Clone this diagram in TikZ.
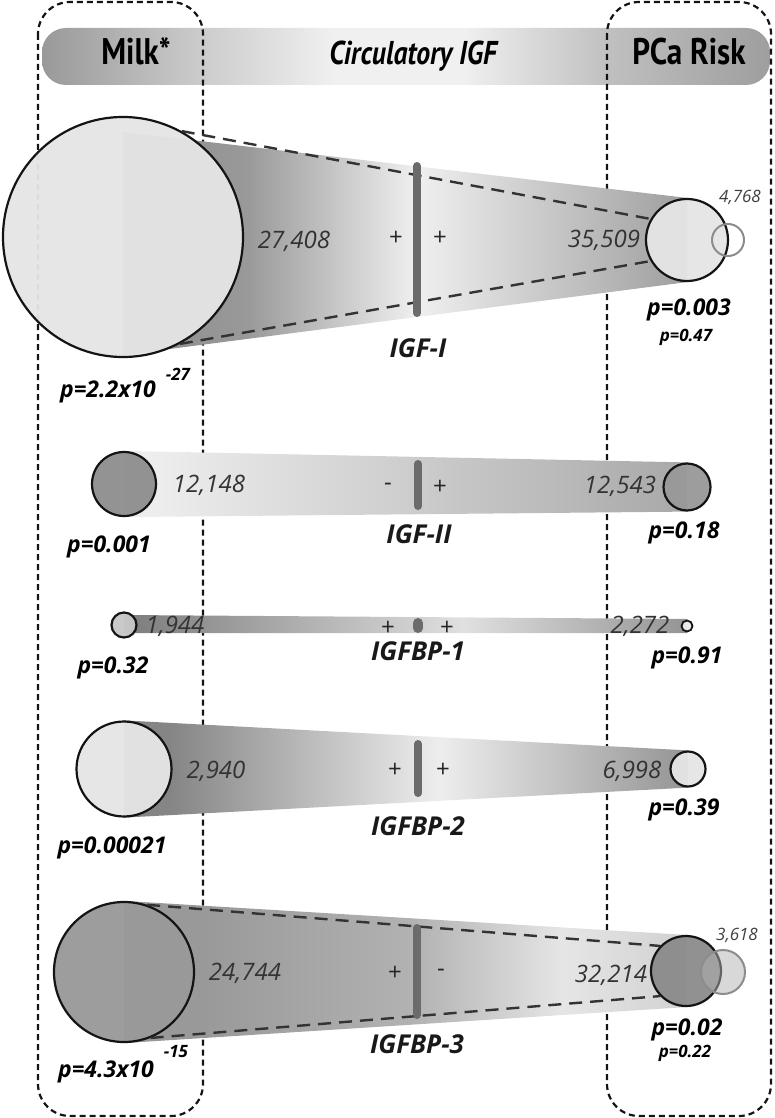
\documentclass[tikz,border=0pt]{standalone}
\usepackage{fontspec}
\setmainfont{Open Sans}
\newfontfamily\hdrfont{PT Sans}[FakeStretch=0.84]
\usetikzlibrary{calc}

% grey levels
\definecolor{rim}{gray}{0.08}
\definecolor{stemgray}{gray}{0.42}
\definecolor{lightdisc}{gray}{0.9}
\definecolor{darkdisc}{gray}{0.56}
\definecolor{hdA}{gray}{0.6}
\definecolor{hdB}{gray}{0.8}
\definecolor{hdC}{gray}{0.94}
\definecolor{hdD}{gray}{0.75}
\definecolor{hdE}{gray}{0.62}

% header bar
\pgfdeclarehorizontalshading{hdrshade}{100bp}{color(0bp)=(hdA); color(25bp)=(hdA); color(36bp)=(hdB); color(45bp)=(hdC); color(54bp)=(hdC); color(64bp)=(hdD); color(75bp)=(hdE); color(100bp)=(hdE)}
% cones, 25bp = left disc centre, 75bp = right disc centre
\pgfdeclarehorizontalshading{coneI}{100bp}{color(0bp)=(black!45); color(25bp)=(black!45); color(36bp)=(black!40); color(51bp)=(black!6); color(75bp)=(black!38); color(100bp)=(black!38)}
\pgfdeclarehorizontalshading{coneII}{100bp}{color(0bp)=(black!7); color(28bp)=(black!7); color(51bp)=(black!20); color(75bp)=(black!34); color(100bp)=(black!34)}
\pgfdeclarehorizontalshading{coneBPi}{100bp}{color(0bp)=(black!50); color(26bp)=(black!50); color(51bp)=(black!18); color(55bp)=(black!12); color(75bp)=(black!42); color(100bp)=(black!42)}
\pgfdeclarehorizontalshading{coneBPii}{100bp}{color(0bp)=(black!48); color(29bp)=(black!48); color(51bp)=(black!10); color(53bp)=(black!7); color(75bp)=(black!42); color(100bp)=(black!42)}
\pgfdeclarehorizontalshading{coneBPiii}{100bp}{color(0bp)=(black!40); color(32bp)=(black!40); color(51bp)=(black!30); color(64bp)=(black!10); color(75bp)=(black!18); color(100bp)=(black!18)}

\pgfdeclarelayer{frame}
\pgfdeclarelayer{cone}
\pgfsetlayers{frame,cone,main}

\begin{document}
\begin{tikzpicture}[x=1pt,y=-1pt,
	disc/.style={circle,draw=rim,line width=2.2pt,inner sep=0pt,fill opacity=0.96},
	ghost/.style={circle,draw=black!45,line width=2pt,inner sep=0pt},
	frameline/.style={draw=rim,line width=2.2pt,dash pattern=on 6pt off 4pt,rounded corners=32pt},
	guide/.style={draw=black!80,line width=2.4pt,dash pattern=on 13pt off 8pt},
	stem/.style={draw=stemgray,line width=8pt,line cap=round},
	hdr/.style={anchor=base,font=\hdrfont\fontsize{37}{40}\selectfont\bfseries},
	hdrit/.style={anchor=base,font=\hdrfont\fontsize{33}{36}\selectfont\bfseries\itshape},
	lbl/.style={anchor=base,text=black!90,font=\fontsize{26}{30}\selectfont\bfseries\itshape},
	num/.style={anchor=base,text=black!80,font=\fontsize{24}{28}\selectfont\itshape},
	smallnum/.style={anchor=base,text=black!75,font=\fontsize{17}{20}\selectfont\itshape},
	pval/.style={anchor=base,font=\fontsize{23}{26}\selectfont\bfseries\itshape},
	psmall/.style={anchor=base,font=\fontsize{17}{20}\selectfont\bfseries\itshape},
	sign/.style={text=black!85,font=\fontsize{24}{26}\selectfont}]
\useasboundingbox (0,0) rectangle (774,1118);

% header and the two dashed columns
\begin{pgfonlayer}{frame}
\shade[shading=hdrshade,rounded corners=24pt] (42,28) rectangle (770,85);
\draw[frameline] (38,2) rectangle (203,1116);
\draw[frameline] (607,2) rectangle (771,1116);
\end{pgfonlayer}
\node[hdr] (milk) at (136,65) {Milk*};
\node[hdrit] (circ) at (413,65) {Circulatory IGF};
\node[hdr] (risk) at (689,65) {PCa Risk};

% discs
\node[disc,fill=lightdisc,minimum size=240pt] (m1) at (123,237) {};
\node[disc,fill=lightdisc,minimum size=82pt] (r1) at (687,240) {};
\node[ghost,minimum size=32pt] (g1) at (728,240) {};
\node[disc,fill=darkdisc,minimum size=64pt] (m2) at (124,484) {};
\node[disc,fill=black!40,minimum size=47pt] (r2) at (687,487) {};
\node[disc,fill=black!22,minimum size=25pt] (m3) at (124,625) {};
\node[disc,fill=black!8,minimum size=11pt,line width=1.8pt] (r3) at (687,626) {};
\node[disc,fill=lightdisc,minimum size=95pt] (m4) at (124,769) {};
\node[disc,fill=lightdisc,minimum size=35pt] (r4) at (688,769) {};
\node[disc,fill=black!40,minimum size=140pt] (m5) at (124,972) {};
\node[disc,fill=black!45,minimum size=70pt] (r5) at (686,971) {};
\node[ghost,fill=black!30,fill opacity=0.5,minimum size=44pt] (g5) at (723,972) {};

% cones between the discs
\begin{pgfonlayer}{cone}
\shade[shading=coneI] ($(m1)+(0,-105)$) -- (r1.north) -- (r1.south) -- ($(m1)+(0,118)$) -- cycle;
\shade[shading=coneII] (m2.north) -- (r2.north) -- (r2.south) -- (m2.south) -- cycle;
\shade[shading=coneBPi] ($(m3)+(0,-10)$) -- ($(r3)+(0,-7)$) -- ($(r3)+(0,7)$) -- ($(m3)+(0,8)$) -- cycle;
\shade[shading=coneBPii] (m4.north) -- (r4.north) -- (r4.south) -- (m4.south) -- cycle;
\shade[shading=coneBPiii] (m5.north) -- (r5.north) -- (r5.south) -- (m5.south) -- cycle;
\end{pgfonlayer}

% dashed guides
\draw[guide] (m1.61) -- (r1.150);
\draw[guide] (m1.-62) -- (r1.210);
\draw[guide] (m5.71) -- (r5.136);
\draw[guide] (m5.-68) -- (r5.224);

% stems
\draw[stem] (417,166) -- (417,313);
\draw[stem] (418,464) -- (418,506);
\draw[stem,line width=10pt] (418,623) -- (418,628);
\draw[stem] (418,744) -- (418,793);
\draw[stem] (417,928) -- (417,1015);

% IGF-I
\node[num] at (294,248) {27,408};
\node[num] at (604,247) {35,509};
\node[smallnum] at (740,202) {4,768};
\node[sign] at (396,238) {+};
\node[sign] at (440,238) {+};
\node[lbl] at (418,357) {IGF-I};
\node[pval] (pm1) at (108,397) {p=2.2x10};
\node[psmall] at (178,380) {-27};
\node[pval] at (689,315) {p=0.003};
\node[psmall] at (686,341) {p=0.47};

% IGF-II
\node[num] at (209,492) {12,148};
\node[num] at (620,493) {12,543};
\node[sign] at (388,487) {-};
\node[sign] at (440,487) {+};
\node[lbl] at (419,543) {IGF-II};
\node[pval] at (109,552) {p=0.001};
\node[pval] at (684,538) {p=0.18};

% IGFBP-1
\node[num] at (175,633) {1,944};
\node[num] at (640,633) {2,272};
\node[sign] at (388,628) {+};
\node[sign] at (447,628) {+};
\node[lbl] at (418,660) {IGFBP-1};
\node[pval] at (113,673) {p=0.32};
\node[pval] at (687,663) {p=0.91};

% IGFBP-2
\node[num] at (216,778) {2,940};
\node[num] at (632,778) {6,998};
\node[sign] at (395,770) {+};
\node[sign] at (443,770) {+};
\node[lbl] at (418,835) {IGFBP-2};
\node[pval] at (112,853) {p=0.00021};
\node[pval] at (684,815) {p=0.39};

% IGFBP-3
\node[num] at (245,980) {24,744};
\node[num] at (611,982) {32,214};
\node[smallnum] at (737,940) {3,618};
\node[sign] at (395,973) {+};
\node[sign] at (441,973) {-};
\node[lbl] at (417,1053) {IGFBP-3};
\node[pval] (pm5) at (106,1077) {p=4.3x10};
\node[psmall] at (176,1057) {-15};
\node[pval] at (687,1035) {p=0.02};
\node[psmall] at (685,1057) {p=0.22};
\end{tikzpicture}
\end{document}
